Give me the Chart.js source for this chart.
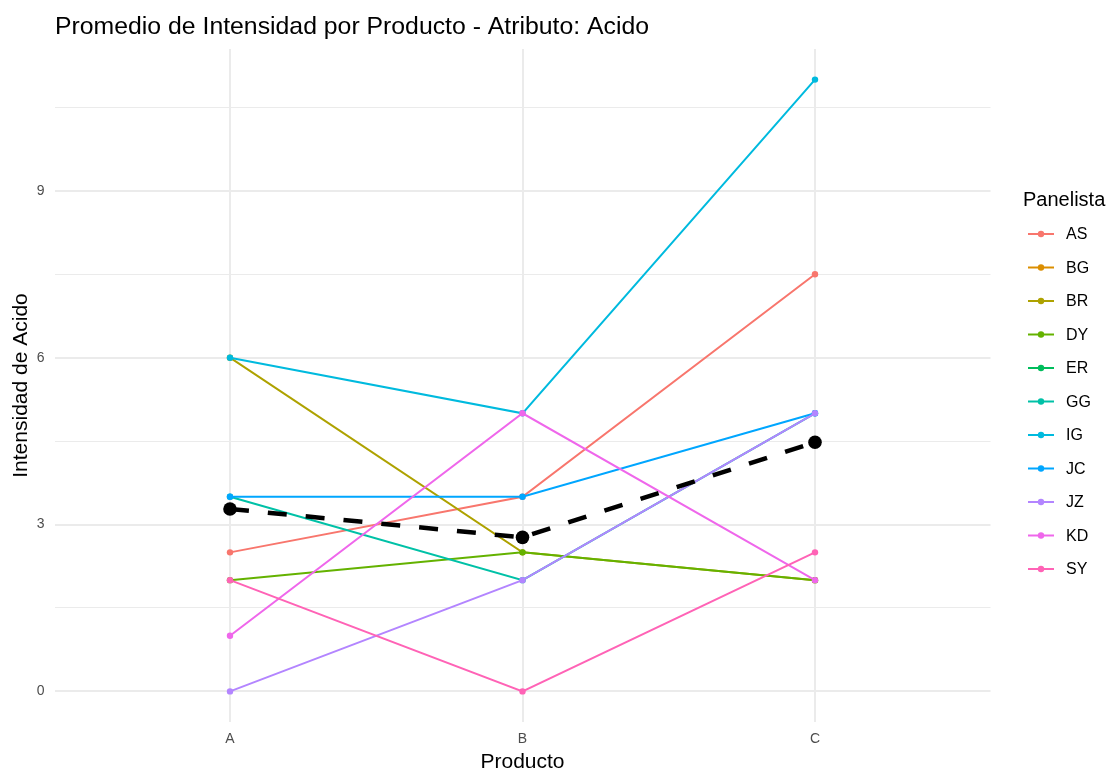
<!DOCTYPE html>
<html>
<head>
<meta charset="utf-8">
<script src="https://cdn.jsdelivr.net/npm/chart.js@4/dist/chart.umd.min.js"></script>
<style>
  html, body { margin: 0; padding: 0; background: #ffffff; }
  #wrap { width: 1114px; height: 774px; position: relative; }
</style>
</head>
<body>
<div id="wrap"><canvas id="c" width="1114" height="774"></canvas></div>
<script>
// ---- data ----
const productos = ["A", "B", "C"];
const panelistas = ["AS", "BG", "BR", "DY", "ER", "GG", "IG", "JC", "JZ", "KD", "SY"];
const colores = ["#F8766D", "#DB8E00", "#AEA200", "#64B200", "#00BD5C", "#00C1A7", "#00BADE", "#00A6FF", "#B385FF", "#EF67EB", "#FF63B6"];
const valAS = [2.5, 3.5, 7.5];
const valBG = [null, null, null];
const valBR = [6, 2.5, 2];
const valDY = [2, 2.5, 2];
const valER = [null, null, null];
const valGG = [3.5, 2, 5];
const valIG = [6, 5, 11];
const valJC = [3.5, 3.5, 5];
const valJZ = [0, 2, 5];
const valKD = [1, 5, 2];
const valSY = [2, 0, 2.5];
const promedio = [3.28, 2.77, 4.48];
const yTicks = [0, 3, 6, 9];
const yMinorTicks = [1.5, 4.5, 7.5, 10.5];

const series = [valAS, valBG, valBR, valDY, valER, valGG, valIG, valJC, valJZ, valKD, valSY];

function toPoints(arr) {
  return arr.map((v, i) => ({ x: i, y: v }));
}

const datasets = panelistas.map((name, i) => ({
  label: name,
  data: toPoints(series[i]),
  borderColor: colores[i],
  backgroundColor: colores[i],
  borderWidth: 2,
  pointRadius: 3.2,
  pointBorderWidth: 0,
  pointHoverRadius: 3.2,
  fill: false,
  tension: 0,
  spanGaps: false,
  order: 100 - i
}));
datasets.push({
  label: "Promedio",
  data: toPoints(promedio),
  borderColor: "#000000",
  backgroundColor: "#000000",
  borderWidth: 4.5,
  borderDash: [19, 19],
  borderCapStyle: "butt",
  pointRadius: 6.8,
  pointBorderWidth: 0,
  pointHoverRadius: 6.8,
  fill: false,
  tension: 0,
  order: 0
});

const PANEL_LEFT = 54.5, PANEL_RIGHT = 990.5, PANEL_TOP = 49, PANEL_BOTTOM = 722;

const textPlugin = {
  id: "textPlugin",
  afterDraw(chart) {
    const ctx = chart.ctx;
    ctx.save();
    // title
    ctx.fillStyle = "#000000";
    ctx.font = "24.8px 'Liberation Sans', Arial, sans-serif";
    ctx.textAlign = "left";
    ctx.textBaseline = "alphabetic";
    ctx.fillText("Promedio de Intensidad por Producto - Atributo: Acido", 55, 34);
    // x axis title
    ctx.font = "21px 'Liberation Sans', Arial, sans-serif";
    ctx.textAlign = "center";
    ctx.fillText("Producto", (PANEL_LEFT + PANEL_RIGHT) / 2, 768);
    // y axis title
    ctx.save();
    ctx.translate(27, (PANEL_TOP + PANEL_BOTTOM) / 2);
    ctx.rotate(-Math.PI / 2);
    ctx.textAlign = "center";
    ctx.fillText("Intensidad de Acido", 0, 0);
    ctx.restore();
    // legend
    ctx.textAlign = "left";
    ctx.font = "20px 'Liberation Sans', Arial, sans-serif";
    ctx.fillText("Panelista", 1023, 206);
    ctx.font = "16px 'Liberation Sans', Arial, sans-serif";
    panelistas.forEach((name, i) => {
      const cy = 234 + i * 33.5;
      ctx.strokeStyle = colores[i];
      ctx.lineWidth = 2;
      ctx.beginPath();
      ctx.moveTo(1028, cy);
      ctx.lineTo(1054, cy);
      ctx.stroke();
      ctx.fillStyle = colores[i];
      ctx.beginPath();
      ctx.arc(1041, cy, 3.2, 0, Math.PI * 2);
      ctx.fill();
      ctx.fillStyle = "#000000";
      ctx.textBaseline = "middle";
      ctx.fillText(name, 1066, cy + 1);
    });
    ctx.restore();
  }
};

new Chart(document.getElementById("c"), {
  type: "line",
  data: { datasets: datasets },
  options: {
    responsive: false,
    animation: false,
    devicePixelRatio: 1,
    layout: { padding: { left: 0, right: 1114 - PANEL_RIGHT, top: PANEL_TOP, bottom: 0 } },
    plugins: {
      legend: { display: false },
      title: { display: false },
      tooltip: { enabled: false }
    },
    scales: {
      x: {
        type: "linear",
        min: -0.6,
        max: 2.6,
        afterBuildTicks(scale) {
          scale.ticks = productos.map((p, i) => ({ value: i }));
        },
        afterFit(scale) { scale.height = 774 - PANEL_BOTTOM; },
        border: { display: false },
        grid: { color: "#EBEBEB", lineWidth: 2, drawTicks: false },
        ticks: {
          padding: 9,
          color: "#4D4D4D",
          font: { family: "'Liberation Sans', Arial, sans-serif", size: 14 },
          callback: (v) => productos[v] !== undefined ? productos[v] : ""
        }
      },
      y: {
        type: "linear",
        min: -0.55,
        max: 11.55,
        afterBuildTicks(scale) {
          const all = yTicks.concat(yMinorTicks).sort((a, b) => a - b);
          scale.ticks = all.map(v => ({ value: v }));
        },
        afterFit(scale) { scale.width = PANEL_LEFT; },
        border: { display: false },
        grid: {
          color: "#EBEBEB",
          drawTicks: false,
          lineWidth: (c) => (c.tick && yTicks.includes(c.tick.value)) ? 2 : 1
        },
        ticks: {
          padding: 10,
          color: "#4D4D4D",
          font: { family: "'Liberation Sans', Arial, sans-serif", size: 14 },
          callback: (v) => yTicks.includes(v) ? String(v) : ""
        }
      }
    }
  },
  plugins: [textPlugin]
});
</script>
</body>
</html>
